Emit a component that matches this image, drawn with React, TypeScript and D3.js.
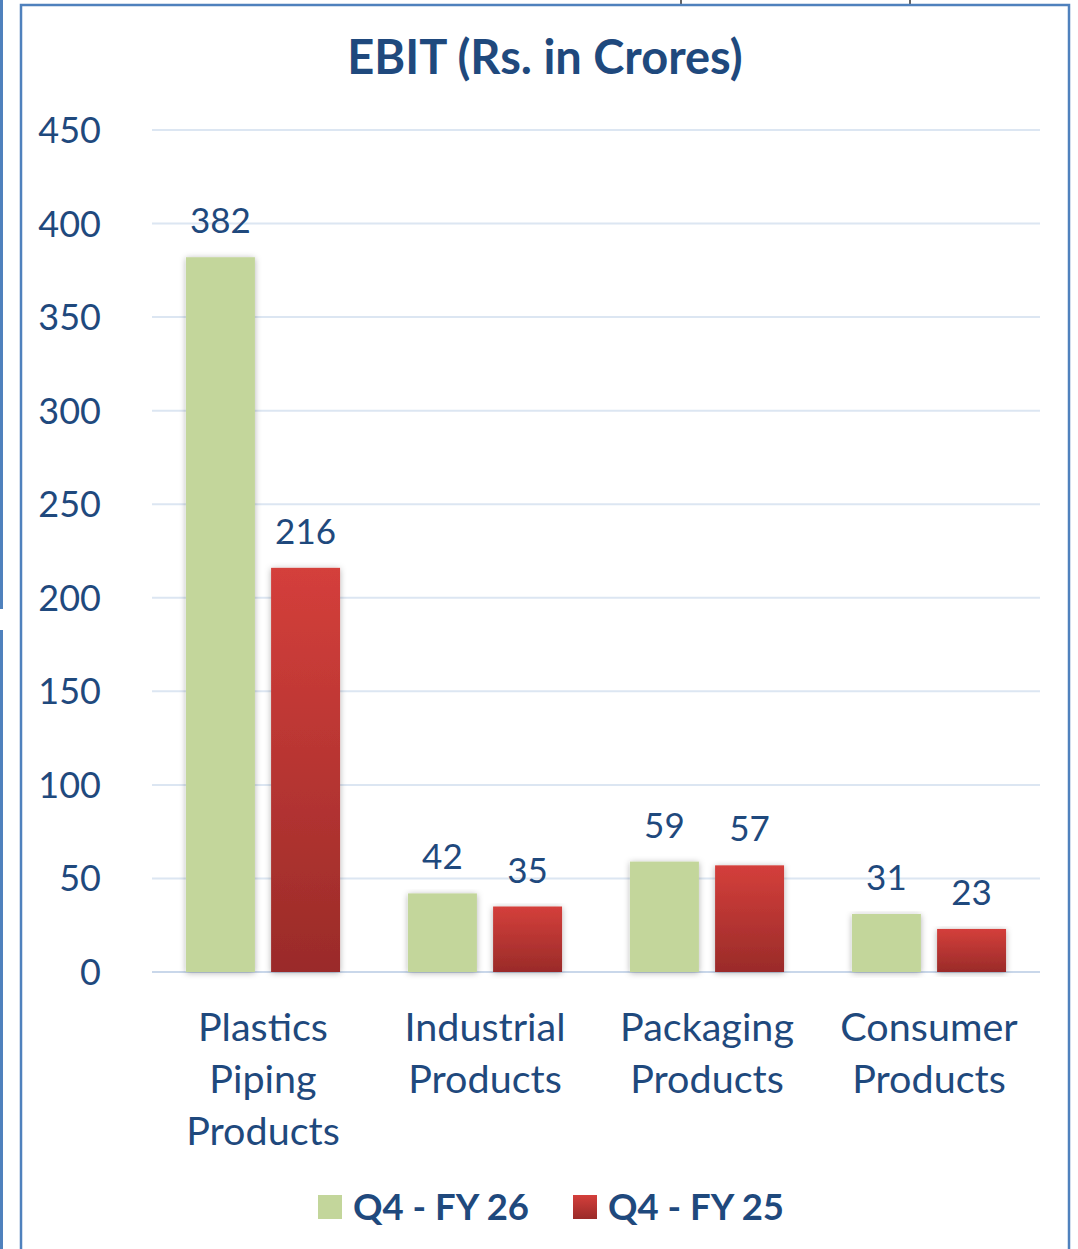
import React from "react";
import * as d3 from "d3";

const categories: string[][] = [
  ["Plastics", "Piping", "Products"],
  ["Industrial", "Products"],
  ["Packaging", "Products"],
  ["Consumer", "Products"],
];
const seriesNames = ["Q4 - FY 26", "Q4 - FY 25"];
const fy26 = [382, 42, 59, 31];
const fy25 = [216, 35, 57, 23];
const yTicks = [0, 50, 100, 150, 200, 250, 300, 350, 400, 450];

const W = 1078;
const H = 1249;
const TEXT = "#1f497d";
const FONT = "Lato, 'Open Sans', sans-serif";

export default function App() {
  const x0 = d3
    .scaleBand<number>()
    .domain(d3.range(categories.length))
    .range([152, 1040])
    .paddingInner(0.306)
    .paddingOuter(0.153);
  const x1 = d3.scaleBand<number>().domain([0, 1]).range([0, x0.bandwidth()]).paddingInner(0.19);
  const y = d3.scaleLinear().domain([0, 450]).range([972, 130]);
  const series = [fy26, fy25];
  const fills = ["#c3d69b", "url(#redGrad)"];

  return (
    <svg
      width={W}
      height={H}
      style={{ position: "absolute", left: 0, top: 0, background: "#fff" }}
      fontFamily={FONT}
    >
      <defs>
        <linearGradient id="redGrad" x1="0" y1="0" x2="0" y2="1">
          <stop offset="0" stopColor="#d43f3b" />
          <stop offset="1" stopColor="#9a2b29" />
        </linearGradient>
        <filter id="shadow" x="-20%" y="-5%" width="140%" height="115%">
          <feDropShadow dx="0" dy="1" stdDeviation="3" floodColor="#000" floodOpacity="0.3" />
        </filter>
      </defs>
      <rect x={0} y={0} width={W} height={H} fill="#fff" />
      {/* outer page fragments */}
      <line x1={1.5} y1={0} x2={1.5} y2={609} stroke="#4f81bd" strokeWidth={3} />
      <line x1={1.5} y1={630} x2={1.5} y2={H} stroke="#4f81bd" strokeWidth={3} />
      <line x1={681} y1={0} x2={681} y2={4} stroke="#666" strokeWidth={2} />
      <line x1={910} y1={0} x2={910} y2={4} stroke="#666" strokeWidth={2} />
      {/* chart frame */}
      <rect x={21} y={5} width={1048} height={H + 10} fill="none" stroke="#4f81bd" strokeWidth={2.5} />

      <text x={545} y={74} textAnchor="middle" fontSize={47} fontWeight={700} fill={TEXT}>
        EBIT (Rs. in Crores)
      </text>

      {yTicks.map((t) => (
        <g key={t}>
          <line x1={152} x2={1040} y1={y(t)} y2={y(t)} stroke={t === 0 ? "#c9d7ea" : "#dce6f2"} strokeWidth={2} />
          <text x={101} y={y(t) + 13} textAnchor="end" fontSize={36} fill={TEXT}>
            {t}
          </text>
        </g>
      ))}

      {categories.map((cat, i) => (
        <g key={i} transform={`translate(${x0(i)},0)`}>
          {series.map((s, j) => (
            <g key={j}>
              <rect
                x={x1(j)}
                y={y(s[i])}
                width={x1.bandwidth()}
                height={y(0) - y(s[i])}
                fill={fills[j]}
                filter="url(#shadow)"
              />
              <text
                x={(x1(j) as number) + x1.bandwidth() / 2}
                y={y(s[i]) - 24}
                textAnchor="middle"
                fontSize={35}
                fill={TEXT}
              >
                {s[i]}
              </text>
            </g>
          ))}
          {cat.map((line, k) => (
            <text
              key={k}
              x={x0.bandwidth() / 2}
              y={1041 + k * 52}
              textAnchor="middle"
              fontSize={39.5}
              fill={TEXT}
            >
              {line}
            </text>
          ))}
        </g>
      ))}

      {/* legend */}
      {seriesNames.map((name, j) => {
        const lx = [318, 573][j];
        return (
          <g key={name}>
            <rect x={lx} y={1195} width={24} height={24} fill={fills[j]} />
            <text x={lx + 35} y={1220} fontSize={36.5} fontWeight={700} fill={TEXT}>
              {name}
            </text>
          </g>
        );
      })}
    </svg>
  );
}
